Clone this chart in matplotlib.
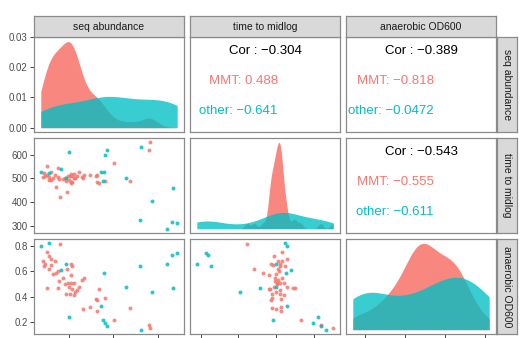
import numpy as np
import matplotlib
matplotlib.use("Agg")
import matplotlib.pyplot as plt

plt.rcParams['font.family'] = ['Liberation Sans', 'DejaVu Sans']

# ---------------- data ----------------
group = (["other"] * 18) + (["MMT"] * 46)
seq_abundance = [30.2, 11.1, 16.7, 28.0, 24.6, 53.8, 52.0, 53.1, 54.6, 55.6,
                 68.6, 79.0, 100.6, 86.4, 78.1, 100.1, 103.3, 96.5,
                 84.8, 84.1, 60.7, 71.3, 24.1, 28.9, 21.2, 31.3, 15.6, 16.3,
                 12.3, 17.9, 13.3, 17.9, 31.3, 32.5, 15.6, 22.4, 23.5, 29.3,
                 31.3, 33.4, 28.0, 30.9, 33.6, 32.5, 35.9, 36.9, 39.2, 40.3,
                 39.9, 44.4, 48.2, 49.3, 50.4, 54.3, 48.9,
                 13.8, 16.5, 19.2, 20.6, 22.6, 26.0, 27.3, 30.0, 34.0]
time_to_midlog = [612, 528, 523, 500, 540, 527, 528, 491, 597, 620,
                  500, 632, 458, 404, 327, 320, 315, 290,
                  651, 618, 565, 489, 423, 442, 465, 482, 515, 495,
                  505, 528, 524, 493, 486, 509, 551, 545, 497, 511,
                  520, 502, 489, 509, 520, 484, 511, 528, 504, 515,
                  500, 513, 512, 513, 482, 489, 486,
                  510, 505, 500, 515, 508, 498, 503, 495, 500]
anaerobic_od600 = [0.24, 0.80, 0.82, 0.66, 0.61, 0.59, 0.33, 0.22, 0.19, 0.17,
                   0.48, 0.14, 0.47, 0.44, 0.64, 0.73, 0.745, 0.66,
                   0.15, 0.175, 0.22, 0.31, 0.815, 0.62, 0.59, 0.57, 0.755, 0.72,
                   0.68, 0.70, 0.64, 0.65, 0.66, 0.64, 0.47, 0.47, 0.52, 0.51,
                   0.51, 0.51, 0.42, 0.42, 0.41, 0.46, 0.45, 0.48, 0.53, 0.55,
                   0.30, 0.32, 0.38, 0.29, 0.46, 0.39, 0.37,
                   0.66, 0.62, 0.58, 0.68, 0.60, 0.55, 0.50, 0.48, 0.44]

var_names = ["seq abundance", "time to midlog", "anaerobic OD600"]
group_names = ["MMT", "other"]
group_colors = {"MMT": "#F8766D", "other": "#00BFC4"}
group_alpha = {"MMT": 0.88, "other": 0.78}

# correlation labels for pairs (0,1), (0,2), (1,2)
cor_overall = ["\u22120.304", "\u22120.389", "\u22120.543"]
cor_mmt = ["0.488", "\u22120.818", "\u22120.555"]
cor_other = ["\u22120.641", "\u22120.0472", "\u22120.611"]

density_yticks = [0.00, 0.01, 0.02, 0.03]
axis_ticks = [[30, 60, 90], [300, 400, 500, 600], [0.2, 0.4, 0.6, 0.8]]
axis_ticklabels = [None, ["300", "400", "500", "600"], ["0.2", "0.4", "0.6", "0.8"]]

# ---------------- helpers ----------------
data = [np.array(seq_abundance), np.array(time_to_midlog), np.array(anaerobic_od600)]
grp = np.array(group)


def bw_nrd0(x):
    sd = np.std(x, ddof=1)
    iqr = np.percentile(x, 75) - np.percentile(x, 25)
    lo = min(sd, iqr / 1.34)
    if lo == 0:
        lo = sd if sd > 0 else 1.0
    return 0.9 * lo * len(x) ** (-0.2)


def kde(x, grid):
    bw = bw_nrd0(x)
    z = (grid[:, None] - x[None, :]) / bw
    return np.exp(-0.5 * z ** 2).sum(axis=1) / (len(x) * bw * np.sqrt(2 * np.pi))


def lims(v):
    lo, hi = v.min(), v.max()
    r = hi - lo
    return lo - 0.05 * r, hi + 0.05 * r


W, H = 522, 338
fig = plt.figure(figsize=(W / 100, H / 100), dpi=100)
lefts = [34, 190, 346]
tops = [37, 138, 239]
pw, ph = 150, 95
border = "#8a8a8a"
strip_fc = "#D9D9D9"
tick_kw = dict(direction="out", length=3, width=0.7, color="#444444",
               labelsize=7, labelcolor="#4D4D4D", pad=1.5)


def rect(c, r):
    return [lefts[c] / W, 1 - (tops[r] + ph) / H, pw / W, ph / H]


for r in range(3):
    for c in range(3):
        ax = fig.add_axes(rect(c, r))
        for s in ax.spines.values():
            s.set_color(border)
            s.set_linewidth(0.9)
        ax.set_xticks([])
        ax.set_yticks([])
        if r == c:
            v = data[c]
            grid = np.linspace(v.min(), v.max(), 512)
            dmax = 0
            for g in group_names:
                d = kde(v[grp == g], grid)
                dmax = max(dmax, d.max())
                ax.fill_between(grid, 0, d, color=group_colors[g],
                                alpha=group_alpha[g], linewidth=0)
            ax.set_xlim(*lims(v))
            ax.set_ylim(-0.05 * dmax, 1.05 * dmax)
            if c == 0:
                ax.set_yticks(density_yticks)
                ax.set_yticklabels(["%.2f" % t for t in density_yticks])
        elif r > c:
            x, y = data[c], data[r]
            for g in group_names:
                m = grp == g
                ax.scatter(x[m], y[m], s=8, color=group_colors[g], alpha=0.85,
                           linewidths=0)
            ax.set_xlim(*lims(x))
            ax.set_ylim(*lims(y))
            if c == 0:
                ax.set_yticks(axis_ticks[r])
                ax.set_yticklabels(axis_ticklabels[r])
        else:
            k = {(0, 1): 0, (0, 2): 1, (1, 2): 2}[(r, c)]
            ax.set_xlim(0, 1)
            ax.set_ylim(0, 1)
            ax.text(0.5, 0.85, "Cor : " + cor_overall[k], ha="center", va="center",
                    fontsize=9.5, color="black")
            ax.text(0.585, 0.535, group_names[0] + ": " + cor_mmt[k], ha="right",
                    va="center", fontsize=9.5, color=group_colors["MMT"])
            ax.text(0.585, 0.22, group_names[1] + ": " + cor_other[k], ha="right",
                    va="center", fontsize=9.5, color=group_colors["other"])
        if r == 2:
            ax.set_xticks(axis_ticks[c])
            ax.set_xticklabels([])
        ax.tick_params(**tick_kw)

# strips
for c in range(3):
    sax = fig.add_axes([lefts[c] / W, 1 - 37 / H, pw / W, 21 / H])
    sax.set_facecolor(strip_fc)
    sax.set_xticks([]); sax.set_yticks([])
    for s in sax.spines.values():
        s.set_color(border); s.set_linewidth(0.9)
    sax.text(0.5, 0.5, var_names[c], ha="center", va="center", fontsize=7.5,
             color="#1A1A1A", transform=sax.transAxes)
for r in range(3):
    sax = fig.add_axes([497 / W, 1 - (tops[r] + ph) / H, 20 / W, ph / H])
    sax.set_facecolor(strip_fc)
    sax.set_xticks([]); sax.set_yticks([])
    for s in sax.spines.values():
        s.set_color(border); s.set_linewidth(0.9)
    sax.text(0.5, 0.5, var_names[r], ha="center", va="center", fontsize=7.5,
             color="#1A1A1A", rotation=270, transform=sax.transAxes)

fig.savefig("out.png", dpi=100, facecolor="white")
